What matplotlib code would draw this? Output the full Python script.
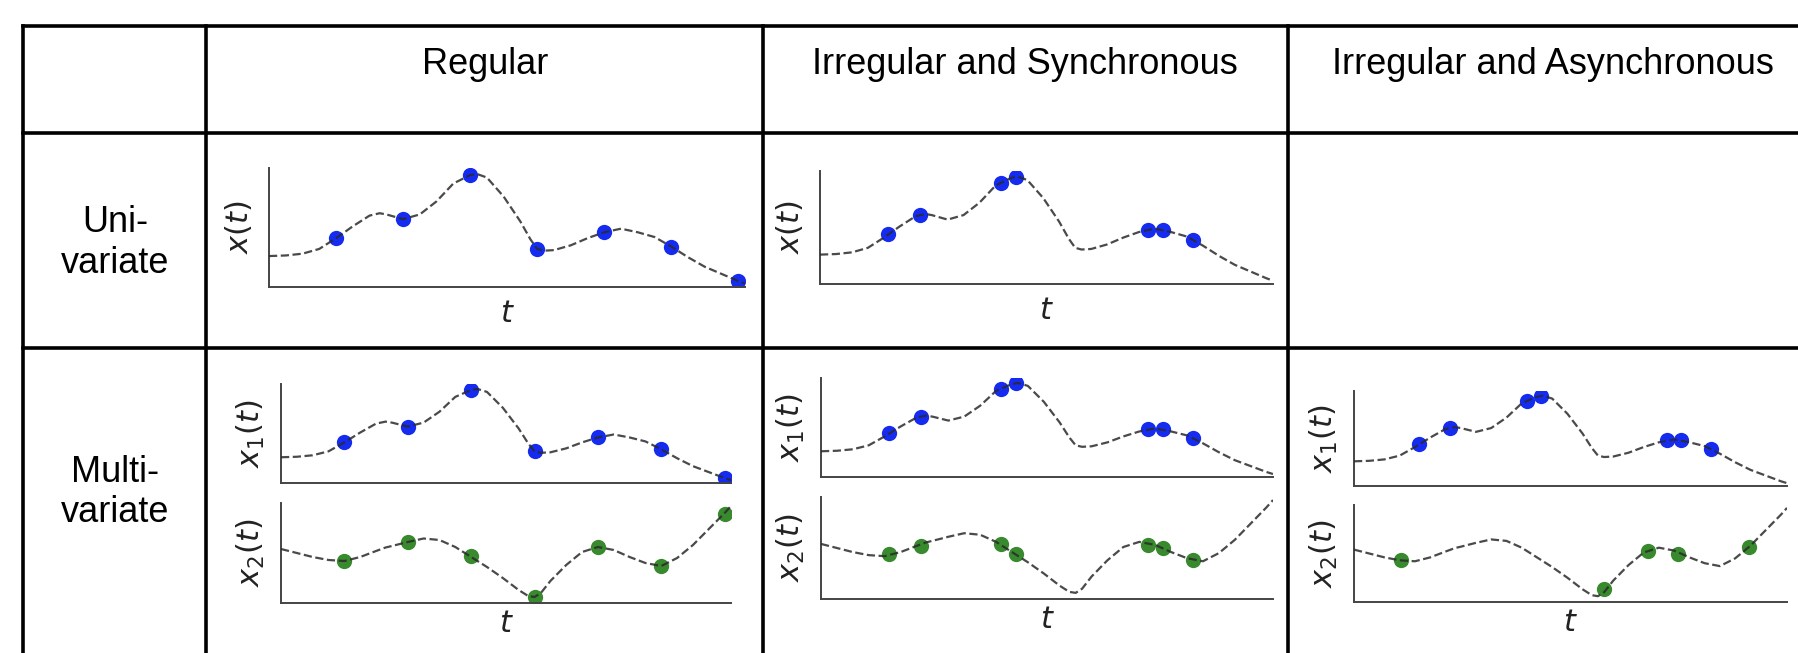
import matplotlib
matplotlib.use('Agg')
import matplotlib.pyplot as plt
from matplotlib.lines import Line2D

# underlying signals
t_curve = [0, 0.25, 0.5, 0.75, 1.0, 1.25, 1.5, 1.65, 1.75, 2.0, 2.25, 2.5, 2.75,
           3.0, 3.1, 3.25, 3.5, 3.75, 3.9, 4.0, 4.1, 4.25, 4.5, 4.75, 5.0, 5.25,
           5.5, 5.75, 6.0, 6.25, 6.5, 6.75, 7.0, 7.1]
x1_curve = [0.26, 0.265, 0.28, 0.32, 0.41, 0.51, 0.60, 0.62, 0.61, 0.57, 0.61, 0.72, 0.87,
            0.94, 0.95, 0.92, 0.76, 0.55, 0.40, 0.32, 0.305, 0.31, 0.35, 0.41, 0.46, 0.49,
            0.46, 0.42, 0.34, 0.25, 0.17, 0.11, 0.05, 0.03]
x2_curve = [0.54, 0.50, 0.46, 0.43, 0.42, 0.46, 0.52, 0.555, 0.57, 0.61, 0.645, 0.63, 0.56,
            0.46, 0.42, 0.36, 0.25, 0.13, 0.07, 0.06, 0.10, 0.22, 0.38, 0.51, 0.56, 0.53,
            0.46, 0.40, 0.37, 0.45, 0.58, 0.74, 0.90, 0.97]

# sampled observations
t_reg = [1, 2, 3, 4, 5, 6, 7]
x1_reg = [0.41, 0.57, 0.94, 0.32, 0.46, 0.34, 0.05]
x2_reg = [0.42, 0.61, 0.47, 0.06, 0.56, 0.37, 0.89]

t_sync = [1.07, 1.57, 2.83, 3.07, 5.14, 5.37, 5.85]
x1_sync = [0.44, 0.61, 0.89, 0.95, 0.48, 0.48, 0.39]
x2_sync = [0.44, 0.52, 0.54, 0.44, 0.53, 0.50, 0.38]

t_async1 = t_sync
x1_async = x1_sync
t_async2 = [0.77, 4.10, 4.82, 5.32, 6.48]
x2_async = [0.43, 0.13, 0.53, 0.49, 0.57]

col_titles = ['Regular', 'Irregular and Synchronous', 'Irregular and Asynchronous']
row_titles = [['Uni-', 'variate'], ['Multi-', 'variate']]

W, H = 1799, 653
BLUE = '#0820f0'
GREEN = '#2e8424'

plt.rcParams['font.family'] = ['Liberation Sans', 'DejaVu Sans']
plt.rcParams['mathtext.fontset'] = 'dejavusans'

fig = plt.figure(figsize=(W / 100, H / 100), dpi=100)


def box(l, r, t, b):
    return [l / W, 1 - b / H, (r - l) / W, (b - t) / H]


def panel(rect, ts, xs, color, curve, ylab, xlab=None, xpad=4):
    ax = fig.add_axes(box(*rect))
    ax.plot(ts, xs, 'o', color=color, ms=11, alpha=0.95, mec='none', zorder=2)
    ax.plot(t_curve, curve, '--', color='#2a2a2a', lw=1.6, alpha=0.85, zorder=3)
    ax.set_xlim(0, 7.1)
    ax.set_ylim(0, 1)
    ax.set_xticks([])
    ax.set_yticks([])
    for s in ['top', 'right']:
        ax.spines[s].set_visible(False)
    for s in ['left', 'bottom']:
        ax.spines[s].set_color('#444444')
        ax.spines[s].set_linewidth(1.4)
    ax.set_ylabel(ylab, fontsize=22, color='#222222', labelpad=10)
    if xlab:
        ax.set_xlabel(xlab, fontsize=22, color='#222222', labelpad=xpad)
    return ax


# univariate row
panel((269, 745, 168, 287), t_reg, x1_reg, BLUE, x1_curve, '$x(t)$', '$t$', 9)
panel((820, 1273, 171, 284), t_sync, x1_sync, BLUE, x1_curve, '$x(t)$', '$t$', 9)

# multivariate row
panel((281, 731, 384, 483), t_reg, x1_reg, BLUE, x1_curve, '$x_1(t)$')
panel((281, 731, 503, 603), t_reg, x2_reg, GREEN, x2_curve, '$x_2(t)$', '$t$')
panel((821, 1273, 378, 477), t_sync, x1_sync, BLUE, x1_curve, '$x_1(t)$')
panel((821, 1273, 497, 599), t_sync, x2_sync, GREEN, x2_curve, '$x_2(t)$', '$t$')
panel((1354, 1787, 391, 486), t_async1, x1_async, BLUE, x1_curve, '$x_1(t)$')
panel((1354, 1787, 505, 602), t_async2, x2_async, GREEN, x2_curve, '$x_2(t)$', '$t$')

# table grid
def hline(y):
    fig.add_artist(Line2D([23 / W, 1], [1 - y / H] * 2, color='black', lw=2.6,
                          transform=fig.transFigure))


def vline(x):
    fig.add_artist(Line2D([x / W] * 2, [1 - 26 / H, 0], color='black', lw=2.6,
                          transform=fig.transFigure))


for y in [26, 133, 348]:
    hline(y)
for x in [23, 206, 763, 1288]:
    vline(x)

# headers
for xc, s in zip([485, 1025, 1553], col_titles):
    fig.text(xc / W, 1 - 74 / H, s, ha='center', va='baseline', fontsize=26)

for (y1, y2), lines in zip([(232, 273), (482, 522)], row_titles):
    fig.text(115 / W, 1 - y1 / H, lines[0], ha='center', va='baseline', fontsize=26)
    fig.text(115 / W, 1 - y2 / H, lines[1], ha='center', va='baseline', fontsize=26)

fig.savefig('out.png', dpi=100)
